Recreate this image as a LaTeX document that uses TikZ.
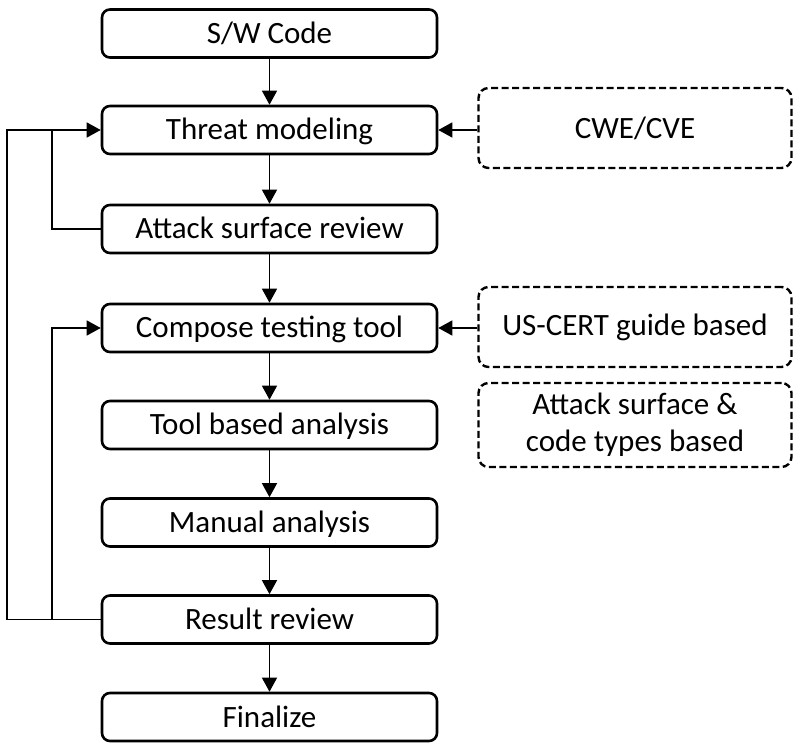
\documentclass[tikz,border=0pt]{standalone}
\usepackage{fontspec}
\setmainfont{Carlito}
\usetikzlibrary{arrows.meta}
\begin{document}
\begin{tikzpicture}[x=1pt,y=-1pt,
  stepbox/.style={draw, line width=2.6pt, rounded corners=8pt, minimum width=335pt,
    minimum height=48pt, inner sep=0pt, font=\fontsize{31}{36}\selectfont,
    text height=24pt, text depth=4pt},
  srcbox/.style={draw, line width=2.4pt, dash pattern=on 7pt off 3.5pt, rounded corners=10pt,
    minimum width=313pt, inner sep=0pt, align=center, font=\fontsize{31}{37}\selectfont},
  conn/.style={line width=1.4pt},
  arr/.style={conn, -{Triangle[length=14pt,width=15pt]}}]
\useasboundingbox (0,0) rectangle (801,751);
\node[stepbox] (sw) at (269.5,33.5) {S/W Code};
\node[stepbox] (threat) at (269.5,130) {Threat modeling};
\node[stepbox] (attack) at (269.5,229) {Attack surface review};
\node[stepbox] (compose) at (269.5,328) {Compose testing tool};
\node[stepbox] (tool) at (269.5,425) {Tool based analysis};
\node[stepbox] (manual) at (269.5,522.5) {Manual analysis};
\node[stepbox] (result) at (269.5,619.5) {Result review};
\node[stepbox] (final) at (269.5,717) {Finalize};
\node[srcbox, minimum height=80pt] (cwe) at (635,128) {CWE/CVE};
\node[srcbox, minimum height=80pt] (cert) at (635,327) {US-CERT guide based};
\node[srcbox, minimum height=84pt] (types) at (635,425) {Attack surface \&\\code types based};
\coordinate (outer) at (7,0);
\coordinate (inner) at (52,0);
\draw[arr] (sw) -- (threat);
\draw[arr] (threat) -- (attack);
\draw[arr] (attack) -- (compose);
\draw[arr] (compose) -- (tool);
\draw[arr] (tool) -- (manual);
\draw[arr] (manual) -- (result);
\draw[arr] (result) -- (final);
\draw[arr] (cwe.west |- threat.east) -- (threat.east);
\draw[arr] (cert.west |- compose.east) -- (compose.east);
\draw[arr] (result.west) -- (result.west -| outer) |- (threat.west);
\draw[arr] (result.west -| inner) |- (compose.west);
\draw[conn] (attack.west) -| (inner |- threat.west);
\end{tikzpicture}
\end{document}
